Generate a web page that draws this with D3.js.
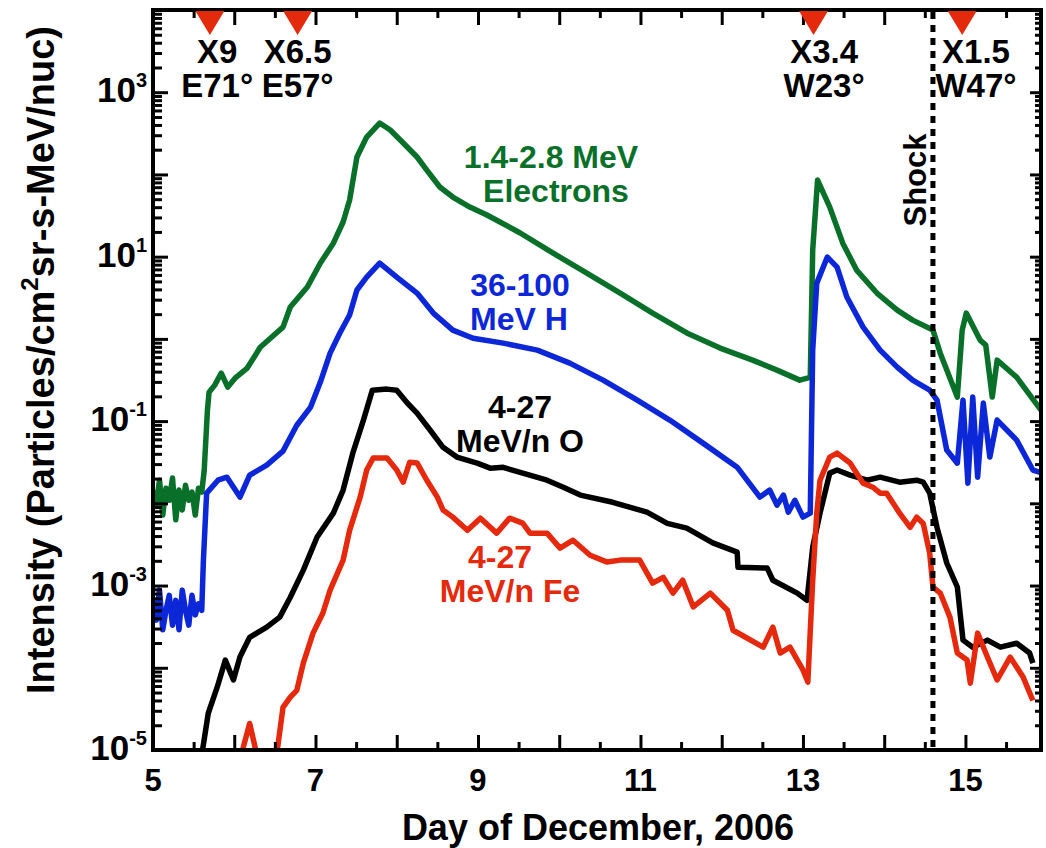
<!DOCTYPE html>
<html><head><meta charset="utf-8">
<script src="https://cdn.jsdelivr.net/npm/d3@7"></script>
<style>
body{margin:0;background:#fff}
text{font-family:"Liberation Sans",Arial,Helvetica,sans-serif;font-weight:bold}
</style></head>
<body><svg id="chart" width="1046" height="848"></svg>
<script>
// ---- data (day of December 2006, intensity) ----
const electrons = [[5.00,1.45e-2],[5.04,9.5e-3],[5.08,1.91e-2],[5.12,7.2e-3],[5.16,1.53e-2],[5.20,1.09e-2],[5.24,2.03e-2],[5.28,6.3e-3],[5.32,1.45e-2],[5.36,8.3e-3],[5.40,1.66e-2],[5.44,1.09e-2],[5.48,1.37e-2],[5.52,7.2e-3],[5.56,1.53e-2],[5.60,1.37e-2],
[5.63,2.5e-2],[5.67,1.36e-1],[5.69,2.25e-1],[5.76,2.74e-1],[5.84,3.84e-1],[5.92,2.59e-1],[6.01,3.33e-1],[6.16,4.42e-1],[6.32,7.9e-1],[6.60,1.39],[6.69,2.44],[6.90,4.27],[7.06,8.36],[7.22,14.6],[7.34,26.4],[7.42,48.9],[7.51,163],[7.63,285],[7.79,422],[7.92,347],[8.08,241],[8.25,163],[8.37,113],[8.53,70.3],[8.69,53.1],[8.90,40.1],[9.11,32.1],[9.52,19.4],[9.92,11.1],[10.34,6.31],[10.75,3.61],[11.15,2.06],[11.57,1.18],[11.98,0.773],[12.38,0.552],[12.68,0.417],[12.96,0.315],[13.09,0.34],[13.12,12.0],[13.18,85.5],[13.33,40.1],[13.49,14.6],[13.66,6.87],[13.91,3.61],[14.16,2.24],[14.35,1.69],[14.60,1.28],[14.69,0.671],[14.90,0.196],[14.96,1.28],[15.01,2.06],[15.18,0.966],[15.25,0.84],[15.33,0.196],[15.39,0.552],[15.63,0.343],[15.93,0.136]];

const protons = [[5.00,6.6e-4],[5.04,3.8e-4],[5.08,8.8e-4],[5.12,2.9e-4],[5.16,5.0e-4],[5.20,7.6e-4],[5.24,3.3e-4],[5.28,6.6e-4],[5.32,2.9e-4],[5.36,8.8e-4],[5.40,5.0e-4],[5.44,3.3e-4],[5.48,7.6e-4],[5.52,4.4e-4],[5.56,6.0e-4],[5.60,5.0e-4],
[5.62,2.0e-3],[5.66,1.33e-2],[5.80,1.91e-2],[5.91,2.08e-2],[6.07,1.19e-2],[6.19,2.2e-2],[6.40,2.92e-2],[6.60,4.32e-2],[6.77,8.9e-2],[6.94,0.148],[7.06,0.298],[7.18,0.671],[7.30,1.18],[7.42,1.95],[7.51,3.93],[7.63,5.65],[7.79,8.36],[8.00,5.65],[8.25,3.61],[8.45,2.06],[8.69,1.28],[8.94,1.02],[9.31,0.889],[9.73,0.731],[10.13,0.508],[10.54,0.315],[10.96,0.18],[11.36,0.103],[11.77,0.054],[12.19,0.0275],[12.47,0.0119],[12.59,0.0145],[12.68,0.0095],[12.76,0.0126],[12.82,0.0078],[12.90,0.0109],[13.00,0.0068],[13.09,0.0076],[13.12,0.731],[13.17,4.77],[13.30,9.89],[13.42,7.47],[13.54,3.23],[13.74,1.39],[13.95,0.731],[14.16,0.454],[14.35,0.315],[14.56,0.238],[14.65,0.18],[14.77,0.0444],[14.90,0.0308],[14.97,0.18],[15.03,0.0176],[15.09,0.196],[15.15,0.0208],[15.22,0.166],[15.30,0.0365],[15.39,0.103],[15.63,0.0587],[15.83,0.0254],[15.93,0.0236]];

const oxygen = [[5.59,7e-6],[5.61,1.0e-5],[5.68,2.8e-5],[5.79,5.8e-5],[5.89,1.24e-4],[5.99,7.1e-5],[6.07,1.35e-4],[6.19,2.35e-4],[6.40,3.12e-4],[6.56,4.13e-4],[6.69,7.2e-4],[6.85,1.54e-3],[7.02,3.9e-3],[7.22,7.6e-3],[7.34,1.45e-2],[7.46,4.1e-2],[7.59,0.103],[7.70,0.238],[7.88,0.245],[8.00,0.238],[8.13,0.166],[8.25,0.125],[8.41,0.078],[8.57,0.048],[8.74,0.0365],[8.99,0.0308],[9.15,0.0268],[9.31,0.0274],[9.85,0.0191],[10.05,0.0157],[10.26,0.0126],[10.66,0.0103],[11.08,0.0078],[11.33,0.0057],[11.57,0.0050],[11.89,0.0033],[12.19,0.00255],[12.20,0.00167],[12.56,0.00163],[12.63,0.00116],[12.93,8.1e-4],[13.05,6.6e-4],[13.12,2.93e-3],[13.21,7.6e-3],[13.33,0.0233],[13.42,0.0254],[13.58,0.022],[13.79,0.0191],[13.95,0.0208],[14.19,0.0181],[14.40,0.0191],[14.48,0.0181],[14.56,0.0133],[14.65,5.1e-3],[14.77,1.88e-3],[14.90,9.6e-4],[14.97,2.17e-4],[15.09,1.78e-4],[15.27,2.17e-4],[15.43,1.78e-4],[15.63,1.99e-4],[15.79,1.51e-4],[15.83,1.14e-4]];

const iron = [[6.06,7e-6],[6.19,2.1e-5],[6.30,7e-6],[6.40,null],
[6.51,7e-6],[6.53,1e-5],[6.60,3.3e-5],[6.69,4.4e-5],[6.77,5.3e-5],[6.85,1.14e-4],[6.97,2.64e-4],[7.09,4.6e-4],[7.18,8.8e-4],[7.34,2.04e-3],[7.42,4.7e-3],[7.55,1.19e-2],[7.63,2.54e-2],[7.71,3.55e-2],[7.88,3.55e-2],[8.00,2.54e-2],[8.08,1.81e-2],[8.16,3.17e-2],[8.25,3.1e-2],[8.37,1.91e-2],[8.50,1.19e-2],[8.57,8.3e-3],[8.69,6.8e-3],[8.87,4.7e-3],[9.03,6.6e-3],[9.23,4.34e-3],[9.39,6.6e-3],[9.55,5.74e-3],[9.64,4.34e-3],[9.85,4.34e-3],[10.01,2.85e-3],[10.17,3.56e-3],[10.38,2.34e-3],[10.59,1.93e-3],[10.75,2.04e-3],[10.99,2.04e-3],[11.15,1.07e-3],[11.28,1.26e-3],[11.40,8.1e-4],[11.52,1.16e-3],[11.65,5.5e-4],[11.86,8.1e-4],[12.07,5.0e-4],[12.14,2.86e-4],[12.51,1.78e-4],[12.63,3.12e-4],[12.72,1.51e-4],[12.84,1.78e-4],[13.00,9.4e-5],[13.06,6.7e-5],[13.12,1.16e-3],[13.17,7.6e-3],[13.21,1.91e-2],[13.33,3.65e-2],[13.42,4.08e-2],[13.58,3.1e-2],[13.74,1.76e-2],[13.86,1.57e-2],[13.95,1.33e-2],[14.03,1.33e-2],[14.19,7.6e-3],[14.32,5.1e-3],[14.40,6.8e-3],[14.48,5.7e-3],[14.56,2.48e-3],[14.60,9.6e-4],[14.69,8.1e-4],[14.81,4.1e-4],[14.90,1.51e-4],[15.02,1.24e-4],[15.06,6.5e-5],[15.15,2.64e-4],[15.27,1.35e-4],[15.39,7.1e-5],[15.55,1.35e-4],[15.71,7.7e-5],[15.83,4.0e-5]];

const flareDays = [5.70, 6.78, 13.13, 14.96];
const flareLabelDays = [5.79, 6.78, 13.26, 15.13];
const flareClass = ["X9", "X6.5", "X3.4", "X1.5"];
const flareLoc = ["E71°", "E57°", "W23°", "W47°"];
const shockDay = 14.60;
const xTickLabels = [5, 7, 9, 11, 13, 15];
const yTickExponents = [3, 1, -1, -3, -5];

// ---- layout ----
const green = "#09702a", blue = "#0b27d8", red = "#e5290c", black = "#000";
const svg = d3.select("#chart");
const L = 153, R = 1041, T = 10, B = 750;
const x = d3.scaleLinear().domain([5, 15.93]).range([L, R]);
const y = d3.scaleLog().domain([1e-5, 1e4]).range([B, T]);

svg.append("defs").append("clipPath").attr("id", "clip")
  .append("rect").attr("x", L).attr("y", T).attr("width", R - L).attr("height", B - T);

const line = d3.line().defined(d => d[1] != null).x(d => x(d[0])).y(d => y(d[1]));
const plot = svg.append("g").attr("clip-path", "url(#clip)");
[[electrons, green], [protons, blue], [oxygen, black], [iron, red]].forEach(([data, c]) => {
  plot.append("path").datum(data).attr("d", line).attr("fill", "none")
    .attr("stroke", c).attr("stroke-width", 5.5).attr("stroke-linejoin", "round").attr("stroke-linecap", "butt");
});

// shock line
svg.append("line").attr("x1", x(shockDay)).attr("x2", x(shockDay)).attr("y1", T + 2).attr("y2", B)
  .attr("stroke", "#000").attr("stroke-width", 5).attr("stroke-dasharray", "7,6");

// axes ticks
const decades = d3.range(-5, 5).map(e => Math.pow(10, e));
const minors = [];
for (let e = -5; e < 4; e++) for (let m = 2; m <= 9; m++) minors.push(m * Math.pow(10, e));
const dayMajor = d3.range(5, 16);
const dayMinor = d3.range(5.5, 16, 1);

function tickStyle(g) { g.select(".domain").remove(); g.selectAll("line").attr("stroke", "#000").attr("stroke-width", 3); g.selectAll("text").remove(); }
svg.append("g").attr("transform", `translate(${L},0)`).call(d3.axisLeft(y).tickValues(decades).tickSize(-15)).call(tickStyle);
svg.append("g").attr("transform", `translate(${L},0)`).call(d3.axisLeft(y).tickValues(minors).tickSize(-9)).call(tickStyle);
svg.append("g").attr("transform", `translate(${R},0)`).call(d3.axisRight(y).tickValues(decades).tickSize(-11)).call(tickStyle);
svg.append("g").attr("transform", `translate(${R},0)`).call(d3.axisRight(y).tickValues(minors).tickSize(-6)).call(tickStyle);
svg.append("g").attr("transform", `translate(0,${B})`).call(d3.axisBottom(x).tickValues(dayMajor).tickSize(-15)).call(tickStyle);
svg.append("g").attr("transform", `translate(0,${B})`).call(d3.axisBottom(x).tickValues(dayMinor).tickSize(-8)).call(tickStyle);
svg.append("g").attr("transform", `translate(0,${T})`).call(d3.axisTop(x).tickValues(dayMajor).tickSize(-15)).call(tickStyle);
svg.append("g").attr("transform", `translate(0,${T})`).call(d3.axisTop(x).tickValues(dayMinor).tickSize(-8)).call(tickStyle);

// frame
svg.append("rect").attr("x", L).attr("y", T).attr("width", R - L).attr("height", B - T)
  .attr("fill", "none").attr("stroke", "#000").attr("stroke-width", 4);

// tick labels
svg.append("g").selectAll("text").data(xTickLabels).join("text")
  .attr("x", d => x(d)).attr("y", 791).attr("text-anchor", "middle").attr("font-size", 31).text(d => d);
const yl = svg.append("g").selectAll("text").data(yTickExponents).join("text")
  .attr("x", 147).attr("y", d => y(Math.pow(10, d)) + 10).attr("text-anchor", "end").attr("font-size", 35);
yl.append("tspan").text("10");
yl.append("tspan").attr("font-size", 20).attr("dy", -15).text(d => d);

// axis titles
svg.append("text").attr("x", 598).attr("y", 840).attr("text-anchor", "middle").attr("font-size", 36)
  .text("Day of December, 2006");
const yt = svg.append("text").attr("transform", "translate(54,360) rotate(-90)").attr("text-anchor", "middle").attr("font-size", 38);
yt.append("tspan").text("Intensity (Particles/cm");
yt.append("tspan").attr("font-size", 24).attr("dy", -16).text("2");
yt.append("tspan").attr("dy", 16).text("sr-s-MeV/nuc)");

// flares
const fg = svg.append("g");
flareDays.forEach((d, i) => {
  const cx = x(d);
  fg.append("path").attr("d", `M${cx - 14.5},${T + 1}L${cx + 14.5},${T + 1}L${cx},${T + 25}Z`).attr("fill", "#e32a0c");
  const lx = x(flareLabelDays[i]);
  fg.append("text").attr("x", lx).attr("y", 63).attr("text-anchor", "middle").attr("font-size", 33).text(flareClass[i]);
  fg.append("text").attr("x", lx).attr("y", 97).attr("text-anchor", "middle").attr("font-size", 33).text(flareLoc[i]);
});

// series annotations
const ann = [
  ["1.4-2.8 MeV", 551, 168, green], ["Electrons", 556, 202, green],
  ["36-100", 520, 296, blue], ["MeV H", 519, 330, blue],
  ["4-27", 520, 418, black], ["MeV/n O", 520, 452, black],
  ["4-27", 500, 568, red], ["MeV/n Fe", 510, 602, red]
];
svg.append("g").selectAll("text").data(ann).join("text")
  .attr("x", d => d[1]).attr("y", d => d[2]).attr("text-anchor", "middle").attr("font-size", 32)
  .attr("fill", d => d[3]).text(d => d[0]);
svg.append("text").attr("transform", "translate(926,180) rotate(-90)").attr("text-anchor", "middle")
  .attr("font-size", 31).text("Shock");
</script></body></html>
